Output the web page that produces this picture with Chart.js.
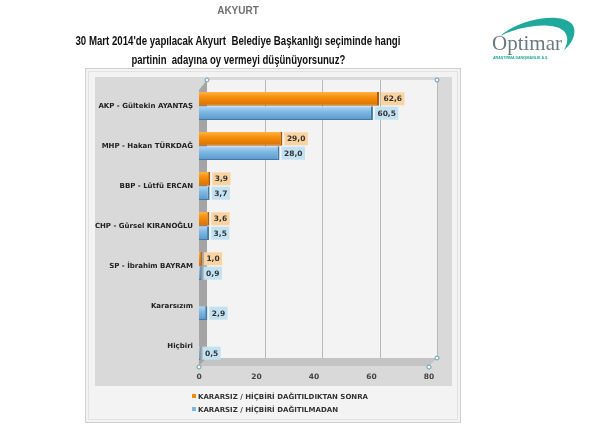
<!DOCTYPE html>
<html>
<head>
<meta charset="utf-8">
<script src="https://cdn.jsdelivr.net/npm/chart.js@4.4.1/dist/chart.umd.min.js"></script>
<style>
  html, body { margin: 0; padding: 0; background: #fff; }
  #wrap { position: relative; width: 600px; height: 438px; overflow: hidden; }
  #chart { position: absolute; left: 0; top: 0; }
  .txt { position: absolute; white-space: nowrap; font-family: "Liberation Sans", Arial, sans-serif; font-weight: bold; }
  #place { left: 0; width: 476px; top: 5px; text-align: center; font-size: 10px; color: #707070; }
  .head { left: 0; width: 476px; text-align: center; font-size: 12px; color: #111; }
  #logo { position: absolute; left: 486px; top: 14px; width: 100px; height: 52px; }
  .leg { position: absolute; left: 192px; font-family: "DejaVu Sans", Verdana, sans-serif; font-weight: bold; font-size: 7px; color: #333; white-space: nowrap; }
  .leg i { display: inline-block; width: 4px; height: 4px; margin-right: 2px; vertical-align: 1px; }
</style>
</head>
<body>
<div id="wrap">
  <canvas id="chart" width="600" height="438"></canvas>
  <div id="place" class="txt">AKYURT</div>
  <div class="txt head" id="h1" style="top:34px">30 Mart 2014'de yapılacak Akyurt&nbsp; Belediye Başkanlığı seçiminde hangi</div>
  <div class="txt head" id="h2" style="top:53px">partinin&nbsp; adayına oy vermeyi düşünüyorsunuz?</div>
  <svg id="logo" viewBox="0 0 100 52">
    <path d="M14 22 C 35 4, 75 -2, 86 10 C 92 18, 86 30, 78 36 C 84 26, 82 16, 70 13 C 55 9, 32 13, 14 22 Z" fill="#1fa89c"/>
    <text x="6" y="36" font-family="Liberation Serif, serif" font-size="21" fill="#6b7a80">Optimar</text>
    <text x="7" y="45" font-family="Liberation Sans, sans-serif" font-size="3.6" fill="#1fa89c" font-weight="bold">ARAŞTIRMA DANIŞMANLIK A.Ş.</text>
  </svg>
  <div class="leg" style="top:393px"><i style="background:#f28a0a"></i>KARARSIZ / HİÇBİRİ DAĞITILDIKTAN SONRA</div>
  <div class="leg" style="top:406px"><i style="background:#7fb6e0"></i>KARARSIZ / HİÇBİRİ DAĞITILMADAN</div>
</div>
<script>
"use strict";
const categories = ["AKP - Gültekin AYANTAŞ", "MHP - Hakan TÜRKDAĞ", "BBP - Lütfü ERCAN", "CHP - Gürsel KIRANOĞLU", "SP - İbrahim BAYRAM", "Kararsızım", "Hiçbiri"];
const afterValues = [62.6, 29.0, 3.9, 3.6, 1.0, null, null];
const beforeValues = [60.5, 28.0, 3.7, 3.5, 0.9, 2.9, 0.5];
const xTicks = [0, 20, 40, 60, 80];
const seriesNames = ["KARARSIZ / HİÇBİRİ DAĞITILDIKTAN SONRA", "KARARSIZ / HİÇBİRİ DAĞITILMADAN"];

// squeeze the heading lines to the width they have in the picture
function fit(id, w) {
    let el = document.getElementById(id);
    let span = document.createElement("span");
    span.textContent = el.textContent;
    span.style.display = "inline-block";
    el.textContent = "";
    el.appendChild(span);
    let k = w / span.offsetWidth;
    span.style.transform = "scaleX(" + k + ")";
}
fit("h1", 325);
fit("h2", 214);

const DEPTH = 8;

function barGradient(ctx, chart, dsIndex, top, bottom) {
    if (!chart.chartArea) {
        return dsIndex === 0 ? "#f28a0a" : "#7fb6e0";
    }
    const g = ctx.createLinearGradient(0, top, 0, bottom);
    if (dsIndex === 0) {
        g.addColorStop(0, "#ffb347");
        g.addColorStop(0.35, "#f8900e");
        g.addColorStop(1, "#d96f00");
    } else {
        g.addColorStop(0, "#b4d9f5");
        g.addColorStop(0.4, "#80b9e4");
        g.addColorStop(1, "#5b97c8");
    }
    return g;
}

function barFill(context) {
    const chart = context.chart;
    const y = chart.scales.y;
    if (!chart.chartArea || !y) {
        return context.datasetIndex === 0 ? "#f28a0a" : "#7fb6e0";
    }
    const c = y.getPixelForValue(context.dataIndex);
    const h = 14;
    const top = context.datasetIndex === 0 ? c - h : c;
    return barGradient(chart.ctx, chart, context.datasetIndex, top, top + h);
}

const backdrop = {
    id: "backdrop",
    beforeDraw(chart) {
        const ctx = chart.ctx;
        const a = chart.chartArea;
        const x = chart.scales.x;
        ctx.save();
        ctx.fillStyle = "#ffffff";
        ctx.fillRect(0, 0, chart.width, chart.height);
        // frame
        ctx.fillStyle = "#f3f3f3";
        ctx.fillRect(85, 68, 375, 354);
        ctx.strokeStyle = "#cfcfcf";
        ctx.lineWidth = 1;
        ctx.strokeRect(85.5, 68.5, 375, 354);
        ctx.strokeStyle = "#e2e2e2";
        ctx.strokeRect(88.5, 71.5, 369, 348);
        // gray panel
        ctx.fillStyle = "#d9d9d9";
        ctx.fillRect(95, 77, 357, 309);
        // back wall
        ctx.fillStyle = "#f3f3f3";
        ctx.fillRect(a.left + DEPTH, a.top - DEPTH + 2, a.right - a.left, a.bottom - a.top - 2);
        // grid on back wall
        ctx.strokeStyle = "#b9b9b9";
        xTicks.forEach(v => {
            if (v === 0) return;
            const px = Math.round(x.getPixelForValue(v) + DEPTH) + 0.5;
            ctx.beginPath();
            ctx.moveTo(px, a.top - DEPTH + 2);
            ctx.lineTo(px, a.bottom - DEPTH);
            ctx.stroke();
        });
        // left wall
        ctx.fillStyle = "#a5a5a5";
        ctx.beginPath();
        ctx.moveTo(a.left, a.top + 4);
        ctx.lineTo(a.left + DEPTH, a.top - DEPTH + 2);
        ctx.lineTo(a.left + DEPTH, a.bottom - DEPTH);
        ctx.lineTo(a.left, a.bottom);
        ctx.closePath();
        ctx.fill();
        // floor
        ctx.fillStyle = "#c4c4c4";
        ctx.beginPath();
        ctx.moveTo(a.left, a.bottom);
        ctx.lineTo(a.left + DEPTH, a.bottom - DEPTH);
        ctx.lineTo(a.right + DEPTH, a.bottom - DEPTH);
        ctx.lineTo(a.right, a.bottom);
        ctx.closePath();
        ctx.fill();
        ctx.restore();
    },
    afterDraw(chart) {
        // small selection handles seen on the original
        const ctx = chart.ctx;
        const a = chart.chartArea;
        const pts = [[a.left + DEPTH, a.top - DEPTH + 2], [a.right + DEPTH, a.top - DEPTH + 2], [a.left, a.bottom + 1], [a.right + DEPTH, a.bottom - DEPTH], [a.right, a.bottom + 1]];
        ctx.save();
        ctx.strokeStyle = "#5c9fb8";
        ctx.fillStyle = "#ffffff";
        ctx.lineWidth = 1;
        pts.forEach(p => {
            ctx.beginPath();
            ctx.arc(p[0], p[1], 2, 0, Math.PI * 2);
            ctx.fill();
            ctx.stroke();
        });
        ctx.restore();
    }
};

const valueLabels = {
    id: "valueLabels",
    afterDatasetsDraw(chart) {
        const ctx = chart.ctx;
        ctx.save();
        ctx.font = "bold 7.5px 'DejaVu Sans', Verdana, sans-serif";
        ctx.textBaseline = "middle";
        chart.data.datasets.forEach((ds, i) => {
            const meta = chart.getDatasetMeta(i);
            meta.data.forEach((bar, j) => {
                const v = ds.data[j];
                if (v === null) return;
                const text = v.toFixed(1).replace(".", ",");
                const w = ctx.measureText(text).width + 5;
                const bx = bar.x + 2;
                const by = bar.y - 6.5;
                ctx.fillStyle = i === 0 ? "#fbd3a1" : "#c2e2f2";
                ctx.fillRect(bx, by, w, 13);
                ctx.fillStyle = "#333333";
                ctx.fillText(text, bx + 2.5, bar.y + 0.5);
            });
        });
        ctx.restore();
    }
};

new Chart(document.getElementById("chart"), {
    type: "bar",
    data: {
        labels: categories,
        datasets: [
            {
                label: seriesNames[0],
                data: afterValues,
                backgroundColor: barFill,
                borderColor: "#b35a00",
                borderWidth: { top: 0, right: 2, bottom: 1, left: 0 },
                borderSkipped: false,
                categoryPercentage: 0.72,
                barPercentage: 0.96
            },
            {
                label: seriesNames[1],
                data: beforeValues,
                backgroundColor: barFill,
                borderColor: "#3f7aa8",
                borderWidth: { top: 0, right: 2, bottom: 1, left: 0 },
                borderSkipped: false,
                categoryPercentage: 0.72,
                barPercentage: 0.96
            }
        ]
    },
    options: {
        indexAxis: "y",
        responsive: false,
        animation: false,
        layout: { padding: { left: 95, right: 171, top: 86, bottom: 52 } },
        plugins: {
            legend: { display: false },
            tooltip: { enabled: false },
            title: { display: false }
        },
        scales: {
            x: {
                min: 0,
                max: 80,
                afterBuildTicks: (scale) => {
                    scale.ticks = xTicks.map(v => ({ value: v }));
                },
                afterFit: (scale) => { scale.height = 20; },
                grid: { display: false, drawTicks: false },
                border: { display: false },
                ticks: {
                    padding: 7,
                    color: "#444",
                    font: { family: "'DejaVu Sans', Verdana, sans-serif", size: 7.5, weight: "bold" }
                }
            },
            y: {
                afterFit: (scale) => { scale.width = 104; },
                grid: { display: false, drawTicks: false },
                border: { display: false },
                ticks: {
                    padding: 6,
                    color: "#222",
                    font: { family: "'DejaVu Sans', Verdana, sans-serif", size: 7, weight: "bold" }
                }
            }
        }
    },
    plugins: [backdrop, valueLabels]
});
</script>
</body>
</html>
